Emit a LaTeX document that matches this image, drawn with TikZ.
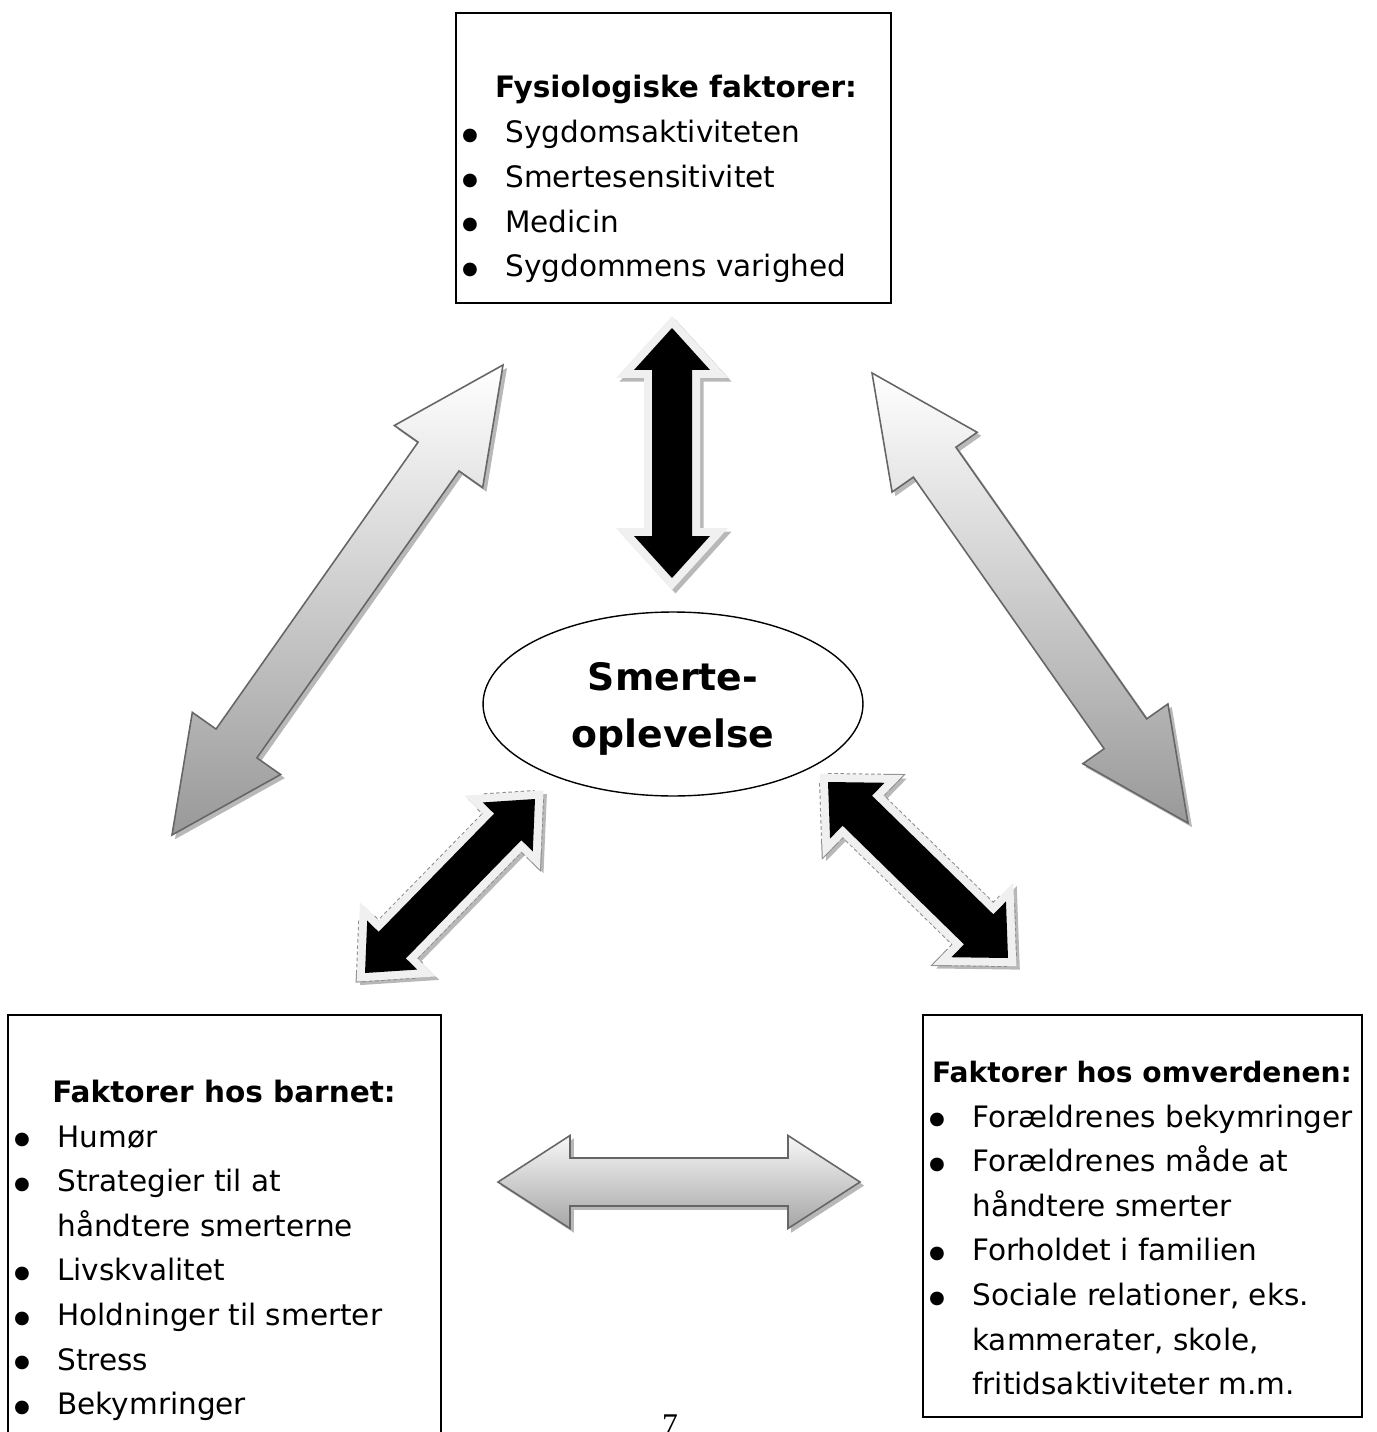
\documentclass[tikz,border=0pt]{standalone}
\usepackage{fontspec}
\setmainfont{DejaVu Sans}
\newfontfamily\numfont{Liberation Serif}
\usetikzlibrary{calc,shapes.geometric}

\tikzset{
  box/.style={draw, line width=1.1pt, inner sep=0pt},
  title/.style={font=\bfseries\fontsize{16.8}{25.4}\selectfont, anchor=base, inner sep=0pt},
  items/.style={font=\fontsize{16.8}{25.4}\selectfont, anchor=base west, inner sep=0pt},
  arrshadow/.style={fill=black!28, draw=black!28, transform canvas={xshift=2pt,yshift=-2pt}},
  blackrim/.style={draw=black!6, line width=0.32cm},
  dashrim/.style={draw=black!45, dash pattern=on 2pt off 1.5pt, line width=0.36cm},
  grayarr/.style={draw=black!60, line width=0.9pt, top color=white, bottom color=black!40}
}

% double block arrow from tip #2 to tip #3: half shaft #4, half head #5, head length #6
\newcommand{\twoway}[6]{%
  \path[#1] (#2) -- ($(#2)!#6!(#3)!#5!90:(#3)$) -- ($(#2)!#6!(#3)!#4!90:(#3)$)
    -- ($(#3)!#6!(#2)!#4!-90:(#2)$) -- ($(#3)!#6!(#2)!#5!-90:(#2)$) -- (#3)
    -- ($(#3)!#6!(#2)!#5!90:(#2)$) -- ($(#3)!#6!(#2)!#4!90:(#2)$)
    -- ($(#2)!#6!(#3)!#4!-90:(#3)$) -- ($(#2)!#6!(#3)!#5!-90:(#3)$) -- cycle;}
\newcommand{\blackway}[6]{%
  \twoway{arrshadow, line width=0.32cm}{#1}{#2}{#3}{#4}{#5}
  \twoway{#6}{#1}{#2}{#3}{#4}{#5}
  \twoway{blackrim}{#1}{#2}{#3}{#4}{#5}
  \twoway{fill=black}{#1}{#2}{#3}{#4}{#5}}
\newcommand{\grayway}[6]{%
  \twoway{arrshadow}{#1}{#2}{#3}{#4}{#5}
  \twoway{grayarr,#6}{#1}{#2}{#3}{#4}{#5}}
\newcommand{\bul}{\makebox[0.98cm][l]{\raisebox{-0.21cm}{\scalebox{1.6}{\textbullet}}}}

\begin{document}
\begin{tikzpicture}[x=0.02cm,y=-0.02cm]
\useasboundingbox (0,0) rectangle (1376,1432);

% boxes
\node[box, minimum width=8.7cm, minimum height=5.8cm] (fysio) at (673.5,158) {};
\node[box, minimum width=8.66cm, minimum height=8.9cm] (barn) at (224.5,1237.5) {};
\node[box, minimum width=8.78cm, minimum height=8.04cm] (omv) at (1142.5,1216) {};

\node[title] (fysioT) at (676,98) {Fysiologiske faktorer:};
\node[items] (fysioL) at (456,143) {\begin{tabular}[t]{@{}l@{}}
  \bul Sygdomsaktiviteten\\
  \bul Smertesensitivitet\\
  \bul Medicin\\
  \bul Sygdommens varighed
\end{tabular}};

\node[title] (barnT) at (224,1102) {Faktorer hos barnet:};
\node[items] (barnL) at (8,1147) {\begin{tabular}[t]{@{}l@{}}
  \bul Humør\\
  \bul Strategier til at\\
  \hspace*{0.98cm}håndtere smerterne\\
  \bul Livskvalitet\\
  \bul Holdninger til smerter\\
  \bul Stress\\
  \bul Bekymringer
\end{tabular}};

\node[title, font=\bfseries\fontsize{16}{25.4}\selectfont] (omvT) at (1142,1082) {Faktorer hos omverdenen:};
\node[items] (omvL) at (923,1127) {\begin{tabular}[t]{@{}l@{}}
  \bul Forældrenes bekymringer\\
  \bul Forældrenes måde at\\
  \hspace*{0.98cm}håndtere smerter\\
  \bul Forholdet i familien\\
  \bul Sociale relationer, eks.\\
  \hspace*{0.98cm}kammerater, skole,\\
  \hspace*{0.98cm}fritidsaktiviteter m.m.
\end{tabular}};

% centre
\node[ellipse, draw, line width=0.8pt, minimum width=7.6cm, minimum height=3.68cm,
  inner sep=0pt] (smerte) at (673,704) {};
\node[align=center, inner sep=0pt, font=\bfseries\fontsize{21.5}{32.4}\selectfont]
  (smerteT) at (673,709) {Smerte-\\oplevelse};

% arrow tips
\coordinate (upT) at (672,328);
\coordinate (upB) at (672,578);
\coordinate (llT) at (535,799);
\coordinate (llB) at (365,973);
\coordinate (lrT) at (828,782);
\coordinate (lrB) at (1008,958);
\coordinate (glT) at (503,365);
\coordinate (glB) at (172,835);
\coordinate (grT) at (872,373);
\coordinate (grB) at (1188,823);
\coordinate (hL) at (498,1182);
\coordinate (hR) at (860,1182);

\blackway{upT}{upB}{0.4cm}{0.76cm}{0.84cm}{}
\blackway{llT}{llB}{0.38cm}{0.7cm}{0.78cm}{dashrim}
\blackway{lrT}{lrB}{0.42cm}{0.78cm}{0.82cm}{dashrim}
\grayway{glT}{glB}{0.5cm}{1.08cm}{2.24cm}{}
\grayway{grT}{grB}{0.52cm}{1.04cm}{2.18cm}{}
\grayway{hL}{hR}{0.48cm}{0.93cm}{1.44cm}{top color=black!3, bottom color=black!35}

\node[font=\numfont\fontsize{18}{20}\selectfont, anchor=north, inner sep=0pt] (side) at (670,1414) {7};
\end{tikzpicture}
\end{document}
